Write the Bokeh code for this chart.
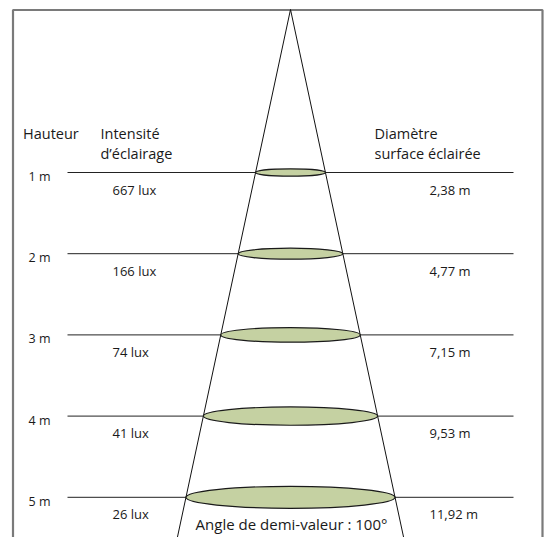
from bokeh.plotting import figure
from bokeh.models import Range1d, ColumnDataSource
from bokeh.core.properties import value
from bokeh.embed import file_html
from bokeh.resources import INLINE

# ---- data ----
heights = [1, 2, 3, 4, 5]
height_labels = ["1 m", "2 m", "3 m", "4 m", "5 m"]
lux_labels = ["667 lux", "166 lux", "74 lux", "41 lux", "26 lux"]
diam_labels = ["2,38 m", "4,77 m", "7,15 m", "9,53 m", "11,92 m"]
angle_label = "Angle de demi-valeur : 100°"
header_left = "Hauteur"
header_mid = ["Intensité", "d’éclairage"]
header_right = ["Diamètre", "surface éclairée"]

# ---- layout (screen geometry of the schematic) ----
PX_PER_M = 81.2          # vertical pixels per metre
Y_1M = 172.0             # image y of the 1 m line
def h_of(py):            # image pixel y -> height in metres
    return 1 + (py - Y_1M) / PX_PER_M

APEX_X = 290.0
APEX_H = h_of(9.0)
SPREAD = 17.4            # cone half-width (px) per metre below apex
FONT = "Open Sans"
TXT = "#1a1a1a"

W, H = 545, 537
X0, Y0 = 0, 0
p = figure(width=W, height=H, output_backend="svg", toolbar_location=None,
           x_range=Range1d(X0, X0 + W), y_range=Range1d(h_of(Y0 + H), h_of(Y0)),
           min_border=0, outline_line_color=None)
p.axis.visible = False
p.grid.visible = False
p.background_fill_color = "white"
p.border_fill_color = "white"

# frame (left, top, right sides)
fl, fr, ft, fb = 12.5, 542.0, 9.5, Y0 + H + 5
p.line([fl, fl, fr, fr], [h_of(fb), h_of(ft), h_of(ft), h_of(fb)],
       line_color="#7a7a7a", line_width=2.2)

# horizontal height lines
p.segment(x0=[67] * len(heights), x1=[513] * len(heights), y0=heights, y1=heights,
          line_color="#222222", line_width=1)

# cone
h_bot = h_of(Y0 + H + 2)
half_bot = SPREAD * (h_bot - APEX_H)
p.line([APEX_X - half_bot, APEX_X, APEX_X + half_bot], [h_bot, APEX_H, h_bot],
       line_color="#111111", line_width=1)

# illuminated discs
widths = [2 * SPREAD * (h - APEX_H) for h in heights]
ell_h = [0.105 * w / PX_PER_M for w in widths]
p.ellipse(x=[APEX_X] * len(heights), y=heights, width=widths, height=ell_h,
          fill_color="#c5d1a2", line_color="#1a1a1a", line_width=1.2)

# labels
src = ColumnDataSource(dict(h=heights, hl=height_labels, lux=lux_labels, d=diam_labels))
p.text(x=28, y="h", text="hl", source=src, text_font=value(FONT), text_font_size="12.5px",
       text_color=TXT, text_baseline="alphabetic", y_offset=4)
p.text(x=112, y="h", text="lux", source=src, text_font=value(FONT), text_font_size="13px",
       text_color=TXT, text_baseline="alphabetic", y_offset=17)
p.text(x=429, y="h", text="d", source=src, text_font=value(FONT), text_font_size="13px",
       text_color=TXT, text_baseline="alphabetic", y_offset=17)

# headers
p.text(x=[22.5], y=[1], text=[header_left], text_font=value(FONT), text_font_size="14.5px",
       text_color=TXT, text_baseline="alphabetic", y_offset=-39)
p.text(x=[100, 100], y=[1, 1], text=header_mid, text_font=value(FONT), text_font_size="14.5px",
       text_color=TXT, text_baseline="alphabetic", y_offset=[-39, -19])
p.text(x=[374, 374], y=[1, 1], text=header_right, text_font=value(FONT), text_font_size="14.5px",
       text_color=TXT, text_baseline="alphabetic", y_offset=[-39, -19])

# angle caption
p.text(x=[APEX_X + 1], y=[heights[-1]], text=[angle_label], text_font=value(FONT),
       text_font_size="15px", text_color=TXT, text_align="center",
       text_baseline="middle", y_offset=27)

open("out.html", "w").write(file_html(p, INLINE))
